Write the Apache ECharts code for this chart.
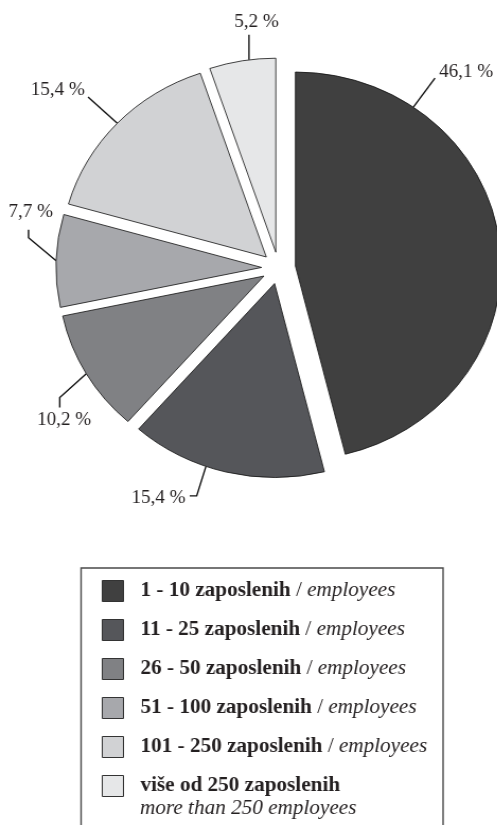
<!DOCTYPE html>
<html>
<head>
<meta charset="utf-8">
<script src="https://cdn.jsdelivr.net/npm/echarts@6/dist/echarts.min.js"></script>
<style>
html,body{margin:0;padding:0;background:#fff;overflow:hidden;}
#c{width:469px;height:825px;transform:scaleX(1.06);transform-origin:0 0;}
</style>
</head>
<body>
<div id="c"></div>
<script>
// ---- data ----
const categories = ['1 - 10 zaposlenih', '11 - 25 zaposlenih', '26 - 50 zaposlenih', '51 - 100 zaposlenih', '101 - 250 zaposlenih', 'više od 250 zaposlenih'];
const englishSuffix = ['employees', 'employees', 'employees', 'employees', 'employees', 'more than 250 employees'];
const shares = [46.1, 15.4, 10.2, 7.7, 15.4, 5.2];
const sliceColors = ['#404040', '#55565a', '#808184', '#a7a8ac', '#d1d2d4', '#e6e7e8'];

// ---- layout / style ----
const FONT = 'Liberation Serif';
const TXT = '#231f20';
const LABEL_SIZE = 18;
const PIE_CENTER = [262.8, 268];
const PIE_R = 194;
const OFFSET = 16;
// leader-line style per slice: attach angle (null = slice middle), segments, label anchor
const leader = [
  {angle: 35,    segs: [[20.4, -29]],              anchor: 'left',   off: [4, -6]},
  {angle: 199.5, segs: [[-8.7, 29.5], [-6.6, 0]],  anchor: 'right',  off: [-4, 2]},
  {angle: null,  segs: [[-25, 23.7], [0, 10]],     anchor: 'center', off: [4, 13]},
  {angle: null,  segs: [[-26, -23], [0, -8]],      anchor: 'center', off: [2, -17]},
  {angle: null,  segs: [[-27.6, -26.2]],           anchor: 'right',  off: [-3, -7]},
  {angle: 352.5, segs: [[0, -25]],                 anchor: 'center', off: [7, -13]}
];

const total = shares.reduce((a, b) => a + b, 0);
const midAngles = [];
(function () {
  let acc = 0;
  shares.forEach(v => { midAngles.push((acc + v / 2) / total * 360); acc += v; });
})();
function dirOf(deg) { const a = deg * Math.PI / 180; return [Math.sin(a), -Math.cos(a)]; }

const measureCtx = document.createElement('canvas').getContext('2d');
function textWidth(t) { measureCtx.font = LABEL_SIZE + 'px "' + FONT + '"'; return measureCtx.measureText(t).width; }
function fmt(v) { return v.toFixed(1).replace('.', ',') + ' %'; }

const chart = echarts.init(document.getElementById('c'), null, {renderer: 'canvas'});

const pieData = categories.map((name, i) => ({
  name: name,
  value: shares[i],
  selected: true,
  itemStyle: {color: sliceColors[i]}
}));

const option = {
  backgroundColor: '#fff',
  animation: false,
  legend: {
    orient: 'vertical',
    left: 96,
    top: 580,
    padding: 0,
    itemWidth: 20,
    itemHeight: 21,
    itemGap: 17,
    icon: 'rect',
    selectedMode: false,
    data: categories,
    itemStyle: {borderColor: '#333', borderWidth: 1},
    textStyle: {
      padding: [0, 0, 0, 11],
      rich: {
        b: {fontFamily: FONT, fontWeight: 'bold', fontSize: 20, color: TXT, lineHeight: 21},
        r: {fontFamily: FONT, fontSize: 20, color: TXT, lineHeight: 21},
        i: {fontFamily: FONT, fontStyle: 'italic', fontSize: 20, color: TXT, lineHeight: 21}
      }
    },
    formatter: function (name) {
      const i = categories.indexOf(name);
      if (i < categories.length - 1) {
        return '{b|' + name + '}{r| / }{i|' + englishSuffix[i] + '}';
      }
      return '{b|' + name + '}';
    }
  },
  graphic: [
    {
      type: 'rect',
      shape: {x: 76.5, y: 568, width: 341.5, height: 300},
      style: {fill: 'none', stroke: '#4a4a4a', lineWidth: 1.4},
      silent: true,
      z: 0
    },
    {
      type: 'text',
      x: 132,
      y: 809,
      style: {
        text: englishSuffix[englishSuffix.length - 1],
        fontFamily: FONT,
        fontStyle: 'italic',
        fontSize: 20,
        fill: TXT,
        verticalAlign: 'middle',
        align: 'left'
      },
      silent: true
    }
  ],
  series: [{
    type: 'pie',
    center: PIE_CENTER,
    radius: [0, PIE_R],
    startAngle: 90,
    clockwise: true,
    selectedMode: 'multiple',
    selectedOffset: OFFSET,
    avoidLabelOverlap: false,
    itemStyle: {borderColor: '#111', borderWidth: 0.8},
    emphasis: {disabled: true},
    label: {
      show: true,
      position: 'outside',
      overflow: 'none',
      width: 70,
      fontFamily: FONT,
      fontSize: LABEL_SIZE,
      color: TXT,
      formatter: function (p) { return fmt(p.value); }
    },
    labelLine: {
      show: true,
      length: 20,
      length2: 6,
      lineStyle: {color: '#111', width: 1.4}
    },
    labelLayout: function (p) {
      const i = p.dataIndex;
      const L = leader[i];
      // positions are expressed in the slice's own (un-exploded) frame
      const da = dirOf(L.angle == null ? midAngles[i] : L.angle);
      let pt = [PIE_CENTER[0] + PIE_R * da[0], PIE_CENTER[1] + PIE_R * da[1]];
      const pts = [pt.slice()];
      L.segs.forEach(s => { pt = [pt[0] + s[0], pt[1] + s[1]]; pts.push(pt.slice()); });
      const tw = textWidth(fmt(shares[i]));
      let cx;
      if (L.anchor === 'left') cx = pt[0] + L.off[0] + tw / 2;
      else if (L.anchor === 'right') cx = pt[0] + L.off[0] - tw / 2;
      else cx = pt[0] + L.off[0];
      const cy = pt[1] + L.off[1];
      const r = p.labelRect;
      let ax;
      if (p.align === 'right') ax = r.x + r.width - tw / 2;
      else if (p.align === 'center') ax = r.x + r.width / 2;
      else ax = r.x + tw / 2;
      const ay = r.y + r.height / 2;
      return {dx: cx - ax, dy: cy - ay, labelLinePoints: pts};
    },
    data: pieData
  }]
};
chart.setOption(option);
</script>
</body>
</html>
